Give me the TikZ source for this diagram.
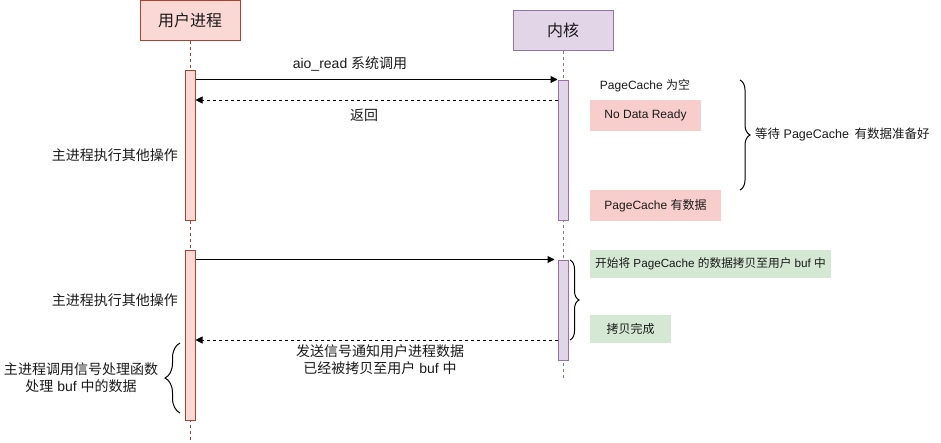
\documentclass[tikz,border=0pt]{standalone}
\usepackage{fontspec}
\setmainfont{Liberation Sans}
\newfontfamily\cjk{Noto Sans CJK SC}
\usetikzlibrary{arrows.meta,decorations.pathreplacing}
\definecolor{ufill}{HTML}{FAD9D5}
\definecolor{ustroke}{HTML}{AE4132}
\definecolor{kfill}{HTML}{E1D5E7}
\definecolor{kstroke}{HTML}{9673A6}
\definecolor{redbox}{HTML}{F8CECC}
\definecolor{greenbox}{HTML}{D5E8D4}
\definecolor{txt}{HTML}{1A1A1A}
\newcommand\zh[1]{{\cjk #1}}
\begin{document}
\begin{tikzpicture}[x=1pt,y=-1pt,
  every node/.style={font=\fontsize{14}{17}\selectfont, text=txt, inner sep=0pt},
  header/.style={draw, line width=1pt, minimum width=100, minimum height=40, font=\fontsize{16}{19}\selectfont},
  uact/.style={draw=ustroke, fill=ufill, line width=1pt, minimum width=10},
  kact/.style={draw=kstroke, fill=kfill, line width=1pt, minimum width=10},
  uline/.style={draw=ustroke, line width=1pt, dash pattern=on 3pt off 3pt},
  kline/.style={draw=kstroke, line width=1pt, dash pattern=on 3pt off 3pt},
  msg/.style={draw=black, line width=1pt, -{Triangle[length=7pt,width=7pt]}},
  ret/.style={msg, dash pattern=on 3pt off 3pt},
  note/.style={minimum height=31, font=\fontsize{12}{14}\selectfont},
  bracestyle/.style={draw=black, line width=1pt, decorate},
]
\useasboundingbox (0,0) rectangle (941,442);

% headers
\node[header, draw=ustroke, fill=ufill] (user) at (190,20) {\zh{用户进程}};
\node[header, draw=kstroke, fill=kfill] (kernel) at (563,30) {\zh{内核}};

% lifelines
\coordinate (uend) at (190,440);
\coordinate (kend) at (563,378);
\draw[uline] (user.south) -- (uend);
\draw[kline] (kernel.south) -- (kend);

% activation bars
\node[uact, minimum height=150] (ua1) at (190,145) {};
\node[uact, minimum height=170] (ua2) at (190,335) {};
\node[kact, minimum height=140] (ka1) at (563,150) {};
\node[kact, minimum height=100] (ka2) at (563,310) {};

% message level coordinates
\coordinate (y100) at (0,100);
\coordinate (y340) at (0,340);

% messages
\draw[msg] (ua1.east |- ka1.north) -- (ka1.north west);
\draw[ret] (ka1.west |- y100) -- (ua1.east |- y100);
\draw[msg] (ua2.east |- ka2.north) -- ([xshift=-3pt]ka2.north west);
\draw[ret] (ka2.west |- y340) -- (ua2.east |- y340);

% message labels
\node (l1) at (350,64) {aio\_read \zh{系统调用}};
\node (l2) at (364,115) {\zh{返回}};
\node[align=center] (l3) at (380,360) {\zh{发送信号通知用户进程数据}\\\zh{已经被拷贝至用户} buf \zh{中}};

% left side notes
\node[anchor=east] (n1) at (178,155) {\zh{主进程执行其他操作}};
\node[anchor=east] (n2) at (178,300) {\zh{主进程执行其他操作}};
\node[align=center] (n3) at (81,378) {\zh{主进程调用信号处理函数}\\\zh{处理} buf \zh{中的数据}};
\coordinate (lb1) at (180,413);
\coordinate (lb2) at (180,343);
\draw[bracestyle, decoration={brace, amplitude=15pt}] (lb1) -- (lb2);

% kernel side notes
\node[font=\fontsize{12}{14}\selectfont] (k0) at (645,86) {PageCache \zh{为空}};
\node[note, fill=redbox, minimum width=111] (k1) at (645.5,115.5) {No Data Ready};
\node[note, fill=redbox, minimum width=131] (k2) at (655.5,205.5) {PageCache \zh{有数据}};
\coordinate (rb1) at (740,80);
\coordinate (rb2) at (740,190);
\draw[bracestyle, decoration={brace, amplitude=10pt}] (rb1) -- (rb2);
\node[anchor=west, font=\fontsize{12.5}{15}\selectfont] (k3) at (755,135) {\zh{等待} PageCache\, \zh{有数据准备好}};

\node[minimum height=28, fill=greenbox, minimum width=241, font=\fontsize{11.7}{13}\selectfont] (g1) at (710.5,264) {\zh{开始将} PageCache \zh{的数据拷贝至用户} buf \zh{中}};
\node[minimum height=28, fill=greenbox, minimum width=81, font=\fontsize{12}{14}\selectfont] (g2) at (630.5,329) {\zh{拷贝完成}};
\coordinate (sb1) at (570,260);
\coordinate (sb2) at (570,340);
\draw[bracestyle, decoration={brace, amplitude=9pt}] (sb1) -- (sb2);
\end{tikzpicture}
\end{document}
